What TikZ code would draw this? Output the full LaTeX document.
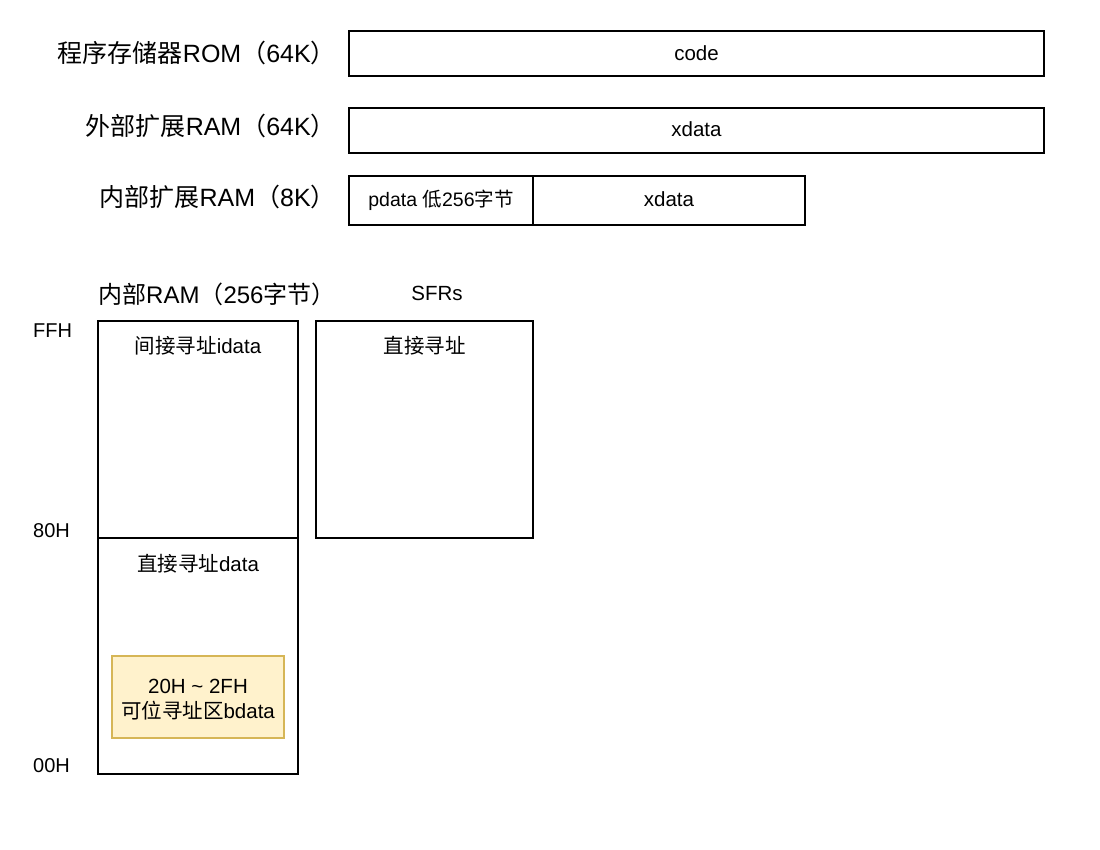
\documentclass[tikz,border=0pt]{standalone}
\usepackage{fontspec}
\setmainfont{Liberation Sans}
\newfontfamily\cjk{Noto Sans CJK SC}
\newcommand{\zh}[1]{{\cjk #1}}
\definecolor{bitfill}{HTML}{FFF2CC}
\definecolor{bitdraw}{HTML}{D6B656}
\tikzset{
  box/.style = {draw, line width=1.4pt, inner sep=0pt, font=\fontsize{20}{24}\selectfont},
  lbl/.style = {inner sep=0pt, font=\fontsize{24}{28}\selectfont},
  toplbl/.style = {lbl, anchor=base east, font=\fontsize{25}{29}\selectfont},
  txt/.style = {inner sep=0pt, anchor=base, font=\fontsize{20.5}{24}\selectfont},
  addr/.style = {inner sep=0pt, anchor=base west, font=\fontsize{20}{24}\selectfont}
}
\begin{document}
\begin{tikzpicture}[x=1pt, y=-1pt]
\useasboundingbox (0,0) rectangle (1100,850);
% external memory
\node (romlbl) [toplbl] at (336,63) {\zh{程序存储器}ROM\zh{（}64K\zh{）}};
\node (xlbl) [toplbl] at (336,136) {\zh{外部扩展}RAM\zh{（}64K\zh{）}};
\node (inlbl) [toplbl] at (336,207) {\zh{内部扩展}RAM\zh{（}8K\zh{）}};
\node (code) [box, minimum width=695pt, minimum height=45pt] at (696.5,53.5) {};
\node (codetxt) [txt] at (code.center |- 0,61) {code};
\node (xdata) [box, minimum width=695pt, minimum height=45pt] at (696.5,130.5) {};
\node (xdatatxt) [txt] at (xdata.center |- 0,137) {xdata};
\node (pdata) [box, minimum width=184pt, minimum height=49pt] at (441,200.5) {};
\node (pdatatxt) [txt, font=\fontsize{19.5}{22}\selectfont] at (pdata.center |- 0,207) {pdata \zh{低}256\zh{字节}};
\node (xram) [box, minimum width=272pt, minimum height=49pt] at (669,200.5) {};
\node (xramtxt) [txt] at (xram.center |- 0,207) {xdata};
% internal RAM
\node (ramlbl) [lbl, anchor=base west] at (98,303) {\zh{内部}RAM\zh{（}256\zh{字节）}};
\node (sfrlbl) [txt] at (437,301) {SFRs};
\node (ffh) [addr] at (33,337) {FFH};
\node (h80) [addr] at (33,537) {80H};
\node (h00) [addr] at (33,772) {00H};
\node (idata) [box, minimum width=200pt, minimum height=217pt] at (198,429.5) {};
\node (idatatxt) [txt] at (idata.center |- 0,353) {\zh{间接寻址}idata};
\node (data) [box, minimum width=200pt, minimum height=236pt] at (198,656) {};
\node (datatxt) [txt] at (data.center |- 0,571) {\zh{直接寻址}data};
\node (sfr) [box, minimum width=217pt, minimum height=217pt] at (424.5,429.5) {};
\node (sfrtxt) [txt] at (sfr.center |- 0,353) {\zh{直接寻址}};
\node (bit) [box, draw=bitdraw, fill=bitfill, line width=1.2pt, minimum width=172pt, minimum height=82pt] at (198,697) {};
\node (bittxt1) [txt] at (bit.center |- 0,693) {20H \textasciitilde{} 2FH};
\node (bittxt2) [txt] at (bit.center |- 0,718) {\zh{可位寻址区}bdata};
\end{tikzpicture}
\end{document}
